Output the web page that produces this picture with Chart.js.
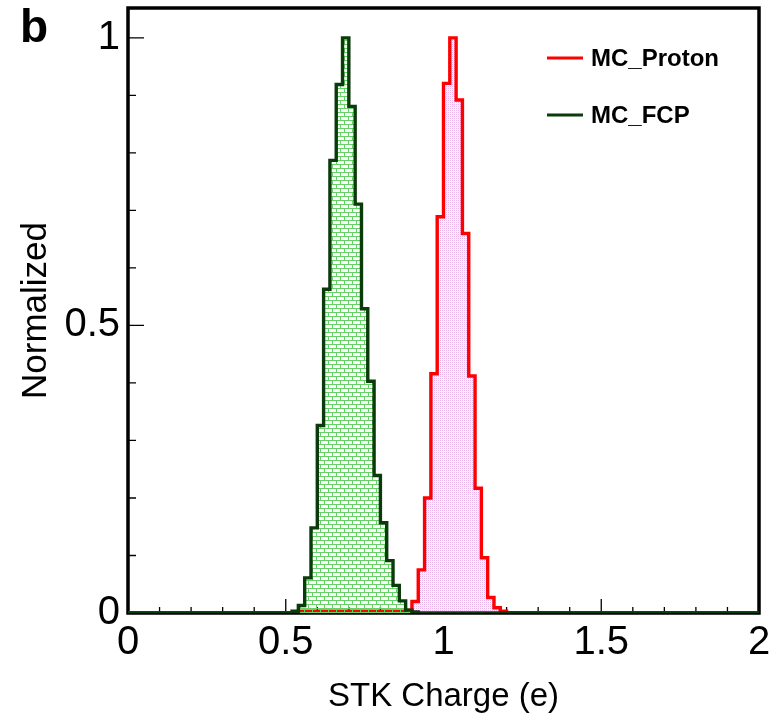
<!DOCTYPE html>
<html>
<head>
<meta charset="utf-8">
<script src="https://cdn.jsdelivr.net/npm/chart.js@4.4.1/dist/chart.umd.min.js"></script>
<style>
  html, body { margin: 0; padding: 0; background: #ffffff; }
  #wrap { width: 780px; height: 724px; }
</style>
</head>
<body>
<div id="wrap"><canvas id="c" width="780" height="724"></canvas></div>
<script>
// ---- data ----
const binLow = [0.52,0.54,0.56,0.58,0.60,0.62,0.64,0.66,0.68,0.70,0.72,0.74,0.76,0.78,0.80,0.82,0.84,
                0.86,0.88,0.90,0.92,0.94,0.96,0.98,1.00,1.02,1.04,1.06,1.08,1.10,1.12,1.14,1.16,1.18];
const binWidth = 0.02;
const fcpValues = [0.003,0.013,0.061,0.148,0.326,0.563,0.787,0.919,1.000,0.881,0.711,0.529,0.403,0.239,0.157,0.091,0.048,
                   0.021,0.005,0.002,0,0,0,0,0,0,0,0,0,0,0,0,0,0];
const protonValues = [0,0.003,0.003,0.003,0.003,0.003,0.003,0.003,0.003,0.003,0.003,0.003,0.003,0.003,0.003,0.003,0.003,
                      0.003,0.005,0.020,0.075,0.200,0.416,0.689,0.921,1.000,0.892,0.660,0.412,0.217,0.096,0.027,0.009,0.003];
const seriesNames = ['MC_Proton', 'MC_FCP'];
const xRange = [0, 2];
const yRange = [0, 1.052];
const xMajorTicks = [0, 0.5, 1, 1.5, 2];
const xMinorTicks = [0.1,0.2,0.3,0.4,0.6,0.7,0.8,0.9,1.1,1.2,1.3,1.4,1.6,1.7,1.8,1.9];
const yMajorTicks = [0, 0.5, 1];
const yMinorTicks = [0.1,0.2,0.3,0.4,0.6,0.7,0.8,0.9];
const xTitle = 'STK Charge (e)';
const yTitle = 'Normalized';
const panelLabel = 'b';

// ---- helpers ----
function histPoints(vals) {
  const pts = [{x: xRange[0], y: 0}];
  binLow.forEach((b, i) => pts.push({x: b, y: vals[i]}));
  pts.push({x: binLow[binLow.length - 1] + binWidth, y: 0});
  pts.push({x: xRange[1], y: 0});
  return pts;
}
function brickPattern() {
  const c = document.createElement('canvas');
  c.width = 8; c.height = 8;
  const g = c.getContext('2d');
  g.fillStyle = 'rgb(100,210,100)';
  g.fillRect(0, 0, 8, 1);
  g.fillRect(0, 4, 8, 1);
  g.fillRect(0, 0, 1, 4);
  g.fillRect(4, 4, 1, 4);
  return g.createPattern(c, 'repeat');
}
function dotPattern() {
  const c = document.createElement('canvas');
  c.width = 2; c.height = 2;
  const g = c.getContext('2d');
  g.fillStyle = '#ffffff';
  g.fillRect(0, 0, 2, 2);
  g.fillStyle = 'rgb(232,175,232)';
  g.fillRect(0, 0, 1, 1);
  g.fillStyle = 'rgb(248,230,248)';
  g.fillRect(1, 1, 1, 1);
  return g.createPattern(c, 'repeat');
}

const RED = '#ff0000';
const DKGREEN = '#0b3a0b';
const FONT = '"Liberation Sans", Arial, Helvetica, sans-serif';

const framePlugin = {
  id: 'frame',
  beforeDatasetsDraw(chart) {
    const {ctx, chartArea: a, scales: {x, y}} = chart;
    ctx.save();
    ctx.strokeStyle = '#000';
    ctx.lineWidth = 1.3;
    ctx.beginPath();
    xMajorTicks.forEach(v => { const px = x.getPixelForValue(v); ctx.moveTo(px, a.bottom); ctx.lineTo(px, a.bottom - 14); });
    xMinorTicks.forEach(v => { const px = x.getPixelForValue(v); ctx.moveTo(px, a.bottom); ctx.lineTo(px, a.bottom - 6); });
    yMajorTicks.forEach(v => { const py = y.getPixelForValue(v); ctx.moveTo(a.left, py); ctx.lineTo(a.left + 16, py); });
    yMinorTicks.forEach(v => { const py = y.getPixelForValue(v); ctx.moveTo(a.left, py); ctx.lineTo(a.left + 8, py); });
    ctx.stroke();
    ctx.lineWidth = 3.5;
    ctx.strokeRect(a.left, a.top, a.right - a.left, a.bottom - a.top);
    ctx.restore();
  },
  afterDraw(chart) {
    const {ctx} = chart;
    ctx.save();
    ctx.fillStyle = '#000';
    ctx.font = 'bold 46px ' + FONT;
    ctx.textAlign = 'left';
    ctx.textBaseline = 'alphabetic';
    ctx.fillText(panelLabel, 20, 42);
    const items = [
      {label: chart.data.datasets[1].label, color: chart.data.datasets[1].borderColor, y: 58},
      {label: chart.data.datasets[0].label, color: chart.data.datasets[0].borderColor, y: 115}
    ];
    ctx.font = 'bold 24px ' + FONT;
    ctx.textBaseline = 'middle';
    items.forEach(it => {
      ctx.strokeStyle = it.color;
      ctx.lineWidth = 3;
      ctx.beginPath();
      ctx.moveTo(547, it.y); ctx.lineTo(583, it.y);
      ctx.stroke();
      ctx.fillStyle = '#000';
      ctx.fillText(it.label, 591, it.y + 1);
    });
    ctx.restore();
  }
};

new Chart(document.getElementById('c'), {
  type: 'line',
  data: {
    datasets: [
      {
        label: seriesNames[1],
        data: histPoints(fcpValues),
        stepped: 'before',
        borderColor: DKGREEN,
        borderWidth: 3.4,
        backgroundColor: brickPattern(),
        fill: 'origin',
        pointRadius: 0,
        order: 0
      },
      {
        label: seriesNames[0],
        data: histPoints(protonValues),
        stepped: 'before',
        borderColor: RED,
        borderWidth: 3.4,
        backgroundColor: dotPattern(),
        fill: 'origin',
        pointRadius: 0,
        order: 1
      }
    ]
  },
  options: {
    responsive: false,
    animation: false,
    layout: { padding: { top: 8, right: 21, left: 0, bottom: 0 } },
    plugins: { legend: { display: false }, tooltip: { enabled: false } },
    scales: {
      x: {
        type: 'linear',
        min: xRange[0], max: xRange[1],
        grid: { display: false, drawTicks: false },
        border: { display: false },
        afterBuildTicks: s => { s.ticks = xMajorTicks.map(v => ({value: v})); },
        afterFit: s => { s.height = 111; s.paddingLeft = 0; s.paddingRight = 0; },
        ticks: {
          color: '#000',
          font: { family: FONT, size: 40 },
          padding: 6,
          maxRotation: 0,
          callback: v => String(v)
        },
        title: {
          display: true, text: xTitle, color: '#000',
          font: { family: FONT, size: 33 },
          padding: { top: 0, bottom: 7 }
        }
      },
      y: {
        type: 'linear',
        min: yRange[0], max: yRange[1],
        grid: { display: false, drawTicks: false },
        border: { display: false },
        afterBuildTicks: s => { s.ticks = yMajorTicks.map(v => ({value: v})); },
        afterFit: s => { s.width = 128; s.paddingTop = 0; s.paddingBottom = 0; },
        ticks: {
          color: '#000',
          font: { family: FONT, size: 40 },
          padding: 8,
          includeBounds: false,
          callback: v => String(v)
        },
        title: {
          display: true, text: yTitle, color: '#000',
          font: { family: FONT, size: 35 },
          padding: { top: 15, bottom: 0 }
        }
      }
    }
  },
  plugins: [framePlugin]
});
</script>
</body>
</html>
